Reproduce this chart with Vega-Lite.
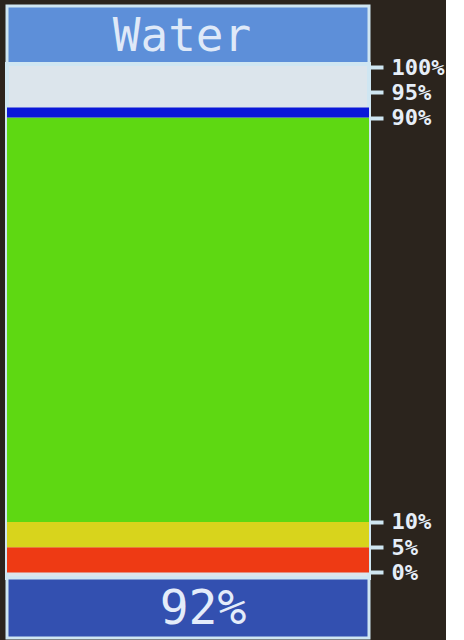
{
  "$schema": "https://vega.github.io/schema/vega-lite/v6.json",
  "background": "#2b241d",
  "padding": {"left": 5, "top": 4, "right": 0, "bottom": 0},
  "spacing": 0,
  "bounds": "flush",
  "vconcat": [
    {
      "width": 362,
      "height": 58,
      "view": {"fill": "#5d8fd9", "stroke": "#cfe6f2", "strokeWidth": 3},
      "data": {"values": [{"label": "Water"}]},
      "mark": {"type": "text", "font": "DejaVu Sans Mono", "fontSize": 46, "color": "#dfe9f8", "baseline": "middle", "dx": -6, "dy": 2},
      "encoding": {"text": {"field": "label"}}
    },
    {
      "width": 362,
      "height": 514,
      "view": {"fill": "#dce5ec", "stroke": "#cfe6f2", "strokeWidth": 4},
      "data": {
        "values": [
          {"zone": "low", "lo": 0, "hi": 5},
          {"zone": "warn", "lo": 5, "hi": 10},
          {"zone": "ok", "lo": 10, "hi": 90},
          {"zone": "level", "lo": 90, "hi": 92}
        ]
      },
      "mark": {"type": "rect"},
      "encoding": {
        "y": {
          "field": "lo",
          "type": "quantitative",
          "scale": {"domain": [-1.1, 100.6], "nice": false, "zero": false},
          "axis": {
            "orient": "right",
            "values": [0, 5, 10, 90, 95, 100],
            "labelExpr": "datum.value + '%'",
            "title": null,
            "grid": false,
            "domain": false,
            "tickColor": "#cfe6f2",
            "tickSize": 14,
            "tickWidth": 4,
            "labelFont": "DejaVu Sans Mono",
            "labelFontWeight": "bold",
            "labelFontSize": 22,
            "labelColor": "#e6eef8",
            "labelPadding": 8
          }
        },
        "y2": {"field": "hi"},
        "color": {
          "field": "zone",
          "type": "nominal",
          "scale": {
            "domain": ["low", "warn", "ok", "level"],
            "range": ["#ee3a14", "#d8d41c", "#5ed812", "#0a18d8"]
          },
          "legend": null
        }
      }
    },
    {
      "width": 362,
      "height": 60,
      "view": {"fill": "#3350b0", "stroke": "#cfe6f2", "strokeWidth": 3},
      "data": {"values": [{"label": "92%"}]},
      "mark": {"type": "text", "font": "DejaVu Sans Mono", "fontSize": 48, "color": "#e4ecfa", "baseline": "middle", "dx": 15, "dy": 2},
      "encoding": {"text": {"field": "label"}}
    }
  ]
}
